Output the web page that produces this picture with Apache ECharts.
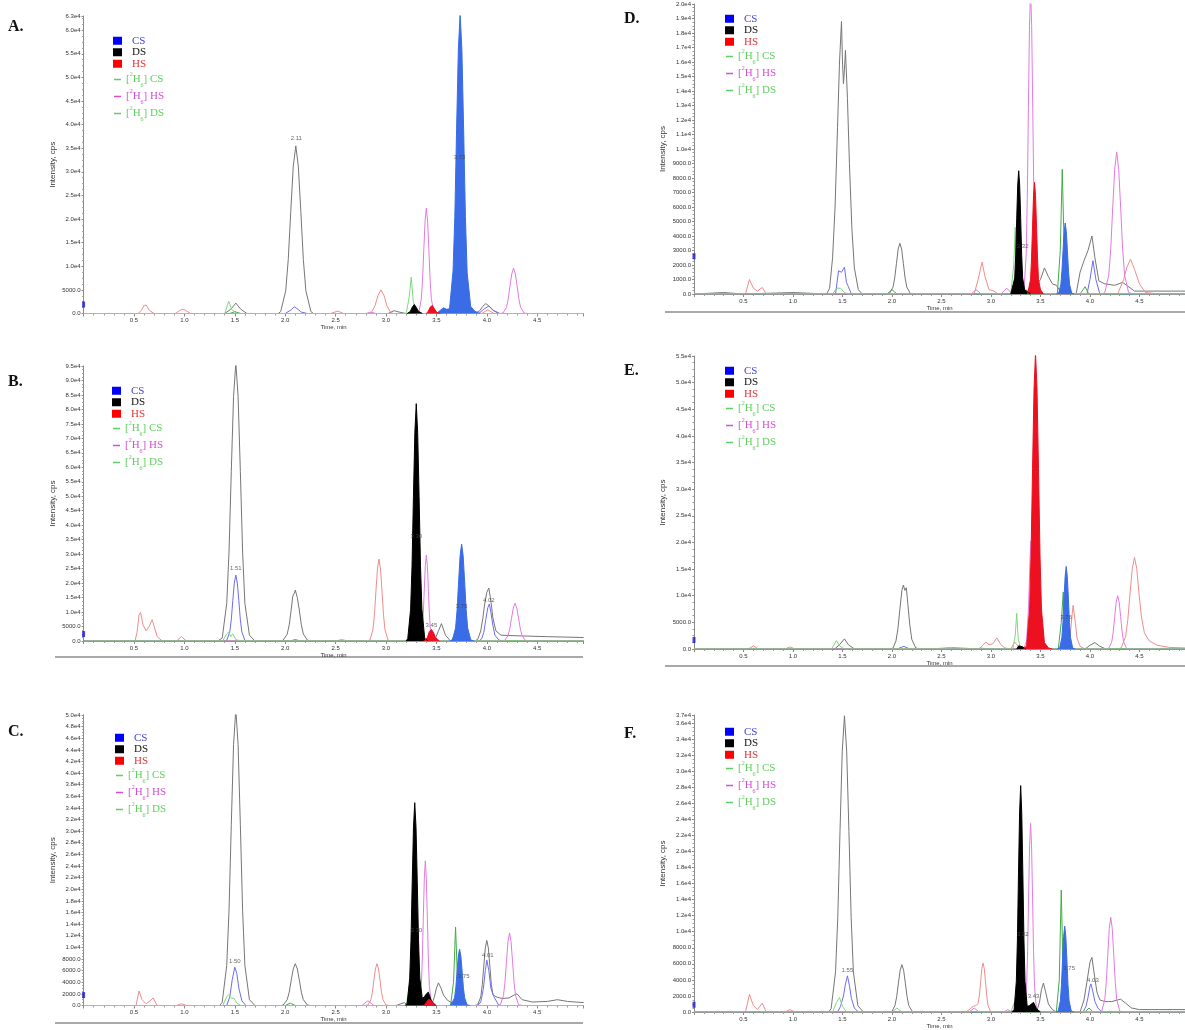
<!DOCTYPE html>
<html>
<head>
<meta charset="utf-8">
<script src="https://cdn.jsdelivr.net/npm/echarts@6/dist/echarts.min.js"></script>
<style>
  html, body { margin: 0; background: #fff; }
  #chart { width: 1185px; height: 1030px; }
</style>
</head>
<body>
<div id="chart"></div>
<script>
// six chromatograms (A-F): [time in min, intensity in cps]
const panelNames = ['A.', 'B.', 'C.', 'D.', 'E.', 'F.']
const yMaxes = [63000, 95000, 50000, 20000, 55000, 37000]
const ySteps = [5000, 5000, 2000, 1000, 5000, 2000]
const cursorLevels = [1900, 2400, 1800, 2600, 1700, 900]

// ---- A ----
const aDS = [[0,0],[1.40,0],[1.46,900],[1.51,2200],[1.56,900],[1.62,0],[1.93,0],[1.955,400],[2.005,4800],[2.03,11400],[2.055,21600],[2.08,31200],[2.105,35500],[2.13,31200],[2.155,21600],[2.18,11400],[2.205,4800],[2.255,400],[2.28,0],[3.02,0],[3.08,600],[3.13,300],[3.20,0],[3.88,0],[3.93,600],[3.96,1500],[3.99,2100],[4.02,1600],[4.06,700],[4.12,0],[4.96,0]]
const aCS = [[0,0],[2.00,0],[2.06,800],[2.09,1400],[2.12,1000],[2.16,300],[2.22,0],[3.92,0],[3.97,900],[4.02,1600],[4.07,600],[4.13,0],[4.96,0]]
const aHS = [[0,0],[0.54,0],[0.575,700],[0.60,1700],[0.62,1800],[0.65,700],[0.70,0],[0.91,0],[0.95,600],[0.98,900],[1.01,700],[1.06,0],[2.45,0],[2.52,500],[2.58,0],[2.84,0],[2.86,400],[2.89,1600],[2.92,3800],[2.95,5000],[2.98,3800],[3.01,1600],[3.04,400],[3.07,0],[3.95,0],[4.01,800],[4.07,0],[4.96,0]]
const aD6CS = [[0,0],[1.45,0],[1.50,400],[1.56,0],[3.66,0],[3.70,3000],[3.72,6000],[3.75,2000],[3.80,0],[4.96,0]]
const aD6HS = [[0,0],[2.80,0],[2.85,300],[2.90,0],[3.30,0],[3.325,250],[3.35,3000],[3.3625,7100],[3.375,13600],[3.3875,19600],[3.40,22300],[3.4125,19600],[3.425,13600],[3.4375,7100],[3.45,3000],[3.475,250],[3.50,0],[4.13,0],[4.16,100],[4.195,1300],[4.2125,3100],[4.23,5900],[4.2475,8400],[4.265,9600],[4.2825,8400],[4.30,5900],[4.3175,3100],[4.335,1300],[4.37,100],[4.40,0],[4.96,0]]
const aD6DS = [[0,0],[1.40,0],[1.44,2600],[1.47,800],[1.52,0],[3.20,0],[3.23,3500],[3.25,7700],[3.27,2500],[3.31,0],[4.96,0]]
const aDSFill = [[3.21,0],[3.24,400],[3.26,1300],[3.28,1900],[3.30,1300],[3.32,500],[3.36,0]]
const aCSFill = [[3.50,0],[3.54,700],[3.57,1200],[3.60,900],[3.63,1000],[3.665,9000],[3.6825,20500],[3.70,39000],[3.7175,55900],[3.735,63500],[3.7525,55900],[3.77,39000],[3.7875,20500],[3.805,8600],[3.84,1500],[3.88,500],[3.93,0]]
const aHSFill = [[3.40,0],[3.42,500],[3.44,1400],[3.46,1700],[3.48,1000],[3.50,300],[3.54,0]]
const aLabels = [[2.11,37000,'2.11'],[3.73,33000,'3.73']]

// ---- B ----
const bDS = [[0,0],[1.33,0],[1.375,1000],[1.42,13000],[1.4425,30700],[1.465,58600],[1.4875,84500],[1.51,96000],[1.5325,84500],[1.555,58600],[1.5775,30700],[1.60,13000],[1.645,2000],[1.70,0],[1.96,0],[1.98,300],[2.02,2400],[2.04,5600],[2.06,11000],[2.075,15500],[2.09,16500],[2.10,17600],[2.12,15000],[2.14,10700],[2.16,5600],[2.18,2400],[2.22,300],[2.26,0],[3.48,0],[3.52,3500],[3.55,6000],[3.59,2000],[3.64,0],[3.88,0],[3.91,600],[3.94,3500],[3.96,7800],[3.98,13000],[4.00,16800],[4.02,18300],[4.04,14000],[4.06,8000],[4.09,3500],[4.14,2000],[4.30,1800],[4.60,1500],[4.96,1200]]
const bCS = [[0,0],[1.40,0],[1.42,250],[1.45,3100],[1.465,7300],[1.48,13900],[1.495,20000],[1.51,22800],[1.525,20000],[1.54,13900],[1.555,7300],[1.57,3100],[1.60,250],[1.63,0],[2.05,0],[2.10,500],[2.15,0],[3.92,0],[3.95,800],[3.97,3000],[3.99,7500],[4.01,11500],[4.025,12800],[4.04,10000],[4.06,5500],[4.08,2000],[4.12,300],[4.16,0],[4.96,0]]
const bHS = [[0,0],[0.51,0],[0.53,3000],[0.55,9000],[0.565,9900],[0.59,5500],[0.62,3500],[0.65,5000],[0.68,7400],[0.70,5000],[0.73,1500],[0.78,0],[0.92,0],[0.97,1500],[1.02,0],[2.50,0],[2.56,500],[2.62,0],[2.80,0],[2.84,300],[2.87,3800],[2.885,9100],[2.90,17300],[2.915,24900],[2.93,28300],[2.945,24900],[2.96,17300],[2.975,9100],[2.99,3800],[3.02,300],[3.05,0],[4.96,0]]
const bD6CS = [[0,0],[3.65,0],[3.70,4000],[3.72,8000],[3.75,3000],[3.80,0],[4.96,0]]
const bD6HS = [[0,0],[3.32,0],[3.34,330],[3.36,4000],[3.37,9500],[3.38,18100],[3.39,26100],[3.40,29700],[3.41,26100],[3.42,18100],[3.43,9500],[3.44,4000],[3.46,330],[3.48,0],[4.14,0],[4.175,140],[4.21,1800],[4.2275,4200],[4.245,7900],[4.2625,11400],[4.28,13000],[4.2975,11400],[4.315,7900],[4.3325,4200],[4.35,1800],[4.385,140],[4.42,0],[4.96,0]]
const bD6DS = [[0,0],[1.38,0],[1.42,2500],[1.44,3100],[1.46,1500],[1.48,2500],[1.51,500],[1.56,0],[3.20,0],[3.24,1500],[3.28,0],[4.96,0]]
const bDSFill = [[3.20,0],[3.216,900],[3.244,11000],[3.258,26000],[3.272,50000],[3.286,72000],[3.30,82000],[3.314,72000],[3.328,50000],[3.342,26000],[3.356,11000],[3.384,900],[3.42,0]]
const bCSFill = [[3.63,0],[3.66,400],[3.69,4500],[3.705,10700],[3.72,20400],[3.735,29500],[3.75,33500],[3.765,29500],[3.78,20400],[3.795,10700],[3.81,4500],[3.84,400],[3.87,0]]
const bHSFill = [[3.38,0],[3.41,1200],[3.43,3300],[3.45,4000],[3.47,3000],[3.49,1200],[3.53,0]]
const bLabels = [[1.51,25000,'1.51'],[3.30,36000,'3.30'],[3.45,5500,'3.45'],[3.75,12000,'3.75'],[4.02,14000,'4.02']]

// ---- C ----
const cDS = [[0,0],[1.35,0],[1.375,560],[1.42,6900],[1.4425,16300],[1.465,31100],[1.4875,44900],[1.51,51000],[1.5325,44900],[1.555,31100],[1.5775,16300],[1.60,6900],[1.645,1000],[1.70,0],[1.96,0],[1.98,80],[2.02,1000],[2.04,2300],[2.06,4400],[2.08,6300],[2.10,7200],[2.12,6300],[2.14,4400],[2.16,2300],[2.18,1000],[2.22,80],[2.25,0],[3.10,0],[3.18,500],[3.22,0],[3.45,0],[3.48,1500],[3.50,3000],[3.52,3900],[3.545,3000],[3.57,1800],[3.61,900],[3.70,0],[3.88,0],[3.91,120],[3.94,1500],[3.955,3600],[3.97,6800],[3.985,9900],[4.00,11200],[4.015,9900],[4.03,6800],[4.045,3600],[4.06,1900],[4.09,1500],[4.15,1200],[4.22,1300],[4.27,1800],[4.30,2000],[4.35,1000],[4.45,600],[4.60,700],[4.70,1000],[4.80,700],[4.96,500]]
const cCS = [[0,0],[1.42,0],[1.45,1500],[1.475,4500],[1.50,6600],[1.52,5500],[1.54,3000],[1.57,800],[1.61,0],[3.91,0],[3.94,600],[3.965,2800],[3.985,6000],[4.00,7800],[4.02,6000],[4.04,3000],[4.07,1500],[4.12,0],[4.96,0]]
const cHS = [[0,0],[0.52,0],[0.55,2500],[0.58,1000],[0.62,300],[0.66,800],[0.69,1300],[0.73,0],[0.92,0],[0.97,300],[1.02,0],[2.78,0],[2.82,80],[2.85,1000],[2.865,2300],[2.88,4400],[2.895,6300],[2.91,7200],[2.925,6300],[2.94,4400],[2.955,2300],[2.97,1000],[3.00,80],[3.03,0],[4.96,0]]
const cD6CS = [[0,0],[2.00,0],[2.05,400],[2.10,0],[3.64,0],[3.67,4000],[3.69,13500],[3.71,4000],[3.75,0],[4.96,0]]
const cD6HS = [[0,0],[2.76,0],[2.82,800],[2.88,0],[3.32,0],[3.33,270],[3.35,3400],[3.36,8000],[3.37,15200],[3.38,21900],[3.39,24900],[3.40,21900],[3.41,15200],[3.42,8000],[3.43,3400],[3.45,270],[3.47,0],[4.10,0],[4.135,140],[4.165,1700],[4.18,4000],[4.195,7600],[4.21,11000],[4.225,12500],[4.24,11000],[4.255,7600],[4.27,4000],[4.285,1700],[4.315,140],[4.35,0],[4.96,0]]
const cD6DS = [[0,0],[1.38,0],[1.42,1500],[1.44,1900],[1.47,1200],[1.49,1300],[1.52,400],[1.56,0],[3.20,0],[3.24,4300],[3.27,1000],[3.30,0],[4.96,0]]
const cDSFill = [[3.19,0],[3.21,380],[3.235,4700],[3.2475,11200],[3.26,21300],[3.2725,30700],[3.285,34900],[3.2975,30700],[3.31,21300],[3.3225,11200],[3.335,4700],[3.36,1200],[3.38,1500],[3.40,2000],[3.42,2300],[3.45,800],[3.49,0]]
const cCSFill = [[3.64,0],[3.655,100],[3.68,1300],[3.6925,3100],[3.705,5900],[3.7175,8500],[3.73,9700],[3.7425,8500],[3.755,5900],[3.7675,3100],[3.78,1300],[3.805,100],[3.83,0]]
const cHSFill = [[3.38,0],[3.41,800],[3.43,1100],[3.46,500],[3.50,0]]
const cLabels = [[1.50,7600,'1.50'],[3.30,13000,'3.30'],[3.77,5000,'3.75'],[4.01,8700,'4.01']]

// ---- D ----
const dDS = [[0,0],[0.30,100],[0.50,0],[1.00,100],[1.34,0],[1.37,400],[1.40,2500],[1.425,6000],[1.45,11500],[1.47,16000],[1.49,18800],[1.50,16000],[1.51,14500],[1.52,15500],[1.53,16800],[1.55,13500],[1.57,9000],[1.595,4500],[1.62,1800],[1.66,300],[1.70,0],[1.95,0],[1.975,40],[2.01,470],[2.0275,1100],[2.045,2100],[2.0625,3100],[2.08,3500],[2.0975,3100],[2.115,2100],[2.1325,1100],[2.15,470],[2.185,40],[2.22,0],[3.38,0],[3.42,900],[3.46,600],[3.50,1000],[3.54,1800],[3.58,1200],[3.62,700],[3.66,600],[3.72,0],[3.86,0],[3.90,1500],[3.94,2300],[3.98,3000],[4.02,4000],[4.05,2500],[4.09,900],[4.15,700],[4.25,600],[4.33,800],[4.37,600],[4.45,200],[4.96,200]]
const dCS = [[0,0],[1.43,0],[1.46,1600],[1.49,1500],[1.52,1850],[1.54,800],[1.56,500],[1.59,0],[3.97,0],[4.00,1000],[4.03,2300],[4.06,1000],[4.10,0],[4.96,0]]
const dHS = [[0,0],[0.52,0],[0.56,1000],[0.60,400],[0.64,200],[0.69,450],[0.73,0],[2.83,0],[2.87,1000],[2.91,2200],[2.94,1200],[2.98,300],[3.03,200],[3.07,0],[3.33,0],[3.36,300],[3.40,0],[4.28,0],[4.34,1000],[4.37,1800],[4.41,2400],[4.45,1700],[4.50,700],[4.56,100],[4.70,0],[4.96,0]]
const dD6CS = [[0,0],[1.95,0],[2.00,300],[2.05,0],[3.67,0],[3.70,3000],[3.72,8600],[3.74,3000],[3.77,0],[3.90,0],[3.95,500],[3.99,0],[4.96,0]]
const dD6HS = [[0,0],[2.80,0],[2.85,300],[2.90,0],[3.10,0],[3.16,400],[3.20,100],[3.25,0],[3.32,0],[3.334,230],[3.356,2800],[3.367,6700],[3.378,12800],[3.389,18500],[3.40,21000],[3.411,18500],[3.422,12800],[3.433,6700],[3.444,2800],[3.466,230],[3.48,0],[4.12,0],[4.15,110],[4.19,1300],[4.21,3100],[4.23,6000],[4.25,8600],[4.27,9800],[4.29,8600],[4.31,6000],[4.33,3100],[4.35,1300],[4.39,110],[4.43,0],[4.96,0]]
const dD6DS = [[0,0],[1.40,0],[1.44,400],[1.48,400],[1.52,100],[1.56,0],[3.20,0],[3.23,2000],[3.245,4600],[3.26,1500],[3.29,0],[4.96,0]]
const dDSFill = [[3.20,0],[3.22,90],[3.24,1100],[3.25,2700],[3.26,5200],[3.27,7500],[3.28,8500],[3.29,7500],[3.30,5200],[3.31,2700],[3.32,1100],[3.34,300],[3.36,400],[3.40,0]]
const dCSFill = [[3.66,0],[3.684,55],[3.706,660],[3.717,1600],[3.728,3000],[3.739,4300],[3.75,4900],[3.761,4300],[3.772,3000],[3.783,1600],[3.794,660],[3.816,55],[3.84,0]]
const dHSFill = [[3.37,0],[3.38,85],[3.40,1000],[3.41,2500],[3.42,4700],[3.43,6800],[3.44,7700],[3.45,6800],[3.46,4700],[3.47,2500],[3.48,1000],[3.50,300],[3.53,0]]
const dLabels = [[3.32,3300,'3.32']]

// ---- E ----
const eDS = [[0,0],[1.42,0],[1.47,800],[1.52,1900],[1.56,800],[1.62,0],[1.98,0],[2.01,150],[2.04,1500],[2.06,3800],[2.08,7500],[2.10,11000],[2.115,12000],[2.13,11000],[2.145,11500],[2.16,8500],[2.18,4500],[2.20,1800],[2.24,200],[2.28,0],[3.95,0],[4.00,700],[4.05,1200],[4.10,500],[4.16,0],[4.96,0]]
const eCS = [[0,0],[2.05,0],[2.12,500],[2.18,0],[4.96,0]]
const eHS = [[0,0],[0.55,0],[0.60,600],[0.65,0],[0.92,0],[0.97,400],[1.02,0],[2.40,0],[2.60,300],[2.88,0],[2.92,800],[2.95,1300],[2.98,800],[3.02,1000],[3.06,2100],[3.10,800],[3.14,200],[3.20,0],[3.24,1300],[3.28,400],[3.32,0],[3.78,0],[3.80,2500],[3.82,6500],[3.83,8200],[3.845,6000],[3.87,2000],[3.90,500],[3.95,0],[4.28,0],[4.315,190],[4.36,2300],[4.3825,5500],[4.405,10500],[4.4275,15100],[4.45,17200],[4.4725,15100],[4.495,10500],[4.52,6000],[4.55,3000],[4.60,1500],[4.68,700],[4.80,300],[4.96,200]]
const eD6CS = [[0,0],[3.68,0],[3.71,5000],[3.73,10700],[3.75,3000],[3.78,0],[4.96,0]]
const eD6HS = [[0,0],[2.85,0],[2.90,200],[2.95,0],[3.33,0],[3.36,1500],[3.38,8000],[3.395,17000],[3.405,20300],[3.42,12000],[3.44,3000],[3.47,0],[4.16,0],[4.19,110],[4.22,1350],[4.235,3200],[4.25,6100],[4.265,8800],[4.28,10000],[4.295,8800],[4.31,6100],[4.325,3200],[4.34,1350],[4.37,110],[4.40,0],[4.96,0]]
const eD6DS = [[0,0],[1.39,0],[1.44,1600],[1.47,600],[1.52,0],[3.22,0],[3.245,2500],[3.26,6700],[3.275,2000],[3.30,0],[4.96,0]]
const eDSFill = [[3.26,0],[3.28,600],[3.30,900],[3.32,400],[3.35,0]]
const eCSFill = [[3.67,0],[3.694,170],[3.716,2100],[3.727,5000],[3.738,9500],[3.749,13600],[3.76,15500],[3.771,13600],[3.782,9500],[3.793,5000],[3.804,2100],[3.826,170],[3.85,0]]
const eHSFill = [[3.33,0],[3.36,600],[3.39,7500],[3.405,17800],[3.42,33900],[3.435,48800],[3.45,55500],[3.465,48800],[3.48,33900],[3.495,17800],[3.51,7500],[3.54,1200],[3.58,200],[3.62,0]]
const eLabels = [[3.76,6000,'3.76']]

// ---- F ----
const fDS = [[0,0],[1.36,0],[1.385,400],[1.43,5000],[1.4525,11800],[1.475,22500],[1.4975,32500],[1.52,36900],[1.5425,32500],[1.565,22500],[1.5875,11800],[1.61,5000],[1.655,800],[1.71,0],[1.97,0],[2.00,65],[2.03,800],[2.0475,1900],[2.065,3600],[2.0825,5200],[2.10,5900],[2.1175,5200],[2.135,3600],[2.1525,1900],[2.17,800],[2.205,65],[2.24,0],[3.46,0],[3.49,1200],[3.51,2800],[3.53,3600],[3.55,2600],[3.58,1000],[3.62,300],[3.66,0],[3.90,0],[3.94,1500],[3.97,3800],[4.00,6200],[4.02,6800],[4.04,5000],[4.07,2500],[4.10,1500],[4.15,1300],[4.22,1300],[4.28,1500],[4.31,1600],[4.36,1100],[4.42,500],[4.50,300],[4.96,300]]
const fCS = [[0,0],[1.45,0],[1.48,700],[1.51,2000],[1.53,3500],[1.55,4500],[1.57,3300],[1.59,1700],[1.62,500],[1.66,0],[3.93,0],[3.96,700],[3.98,1800],[4.00,3200],[4.01,3500],[4.03,2500],[4.05,1300],[4.08,500],[4.12,0],[4.96,0]]
const fHS = [[0,0],[0.52,0],[0.56,2200],[0.60,800],[0.64,300],[0.69,1100],[0.73,0],[0.92,0],[0.97,300],[1.02,0],[2.75,0],[2.79,400],[2.82,700],[2.85,800],[2.87,1100],[2.8825,2000],[2.895,3700],[2.9075,5400],[2.92,6100],[2.9325,5400],[2.945,3700],[2.9575,2000],[2.97,820],[2.995,70],[3.02,0],[4.96,0]]
const fD6CS = [[0,0],[3.66,0],[3.69,4000],[3.71,15200],[3.73,4000],[3.76,0],[3.95,0],[3.99,500],[4.03,0],[4.96,0]]
const fD6HS = [[0,0],[2.78,0],[2.83,500],[2.88,0],[3.13,0],[3.17,300],[3.21,0],[3.32,0],[3.34,260],[3.36,3200],[3.37,7500],[3.38,14300],[3.39,20700],[3.40,23500],[3.41,20700],[3.42,14300],[3.43,7500],[3.44,3200],[3.46,260],[3.48,0],[4.09,0],[4.12,130],[4.15,1600],[4.165,3800],[4.18,7200],[4.195,10400],[4.21,11800],[4.225,10400],[4.24,7200],[4.255,3800],[4.27,1600],[4.30,130],[4.33,0],[4.96,0]]
const fD6DS = [[0,0],[1.40,0],[1.44,1200],[1.47,1800],[1.50,700],[1.54,0],[2.00,0],[2.05,500],[2.10,0],[3.20,0],[3.23,1000],[3.25,1500],[3.27,500],[3.30,0],[4.96,0]]
const fDSFill = [[3.21,0],[3.234,310],[3.256,3800],[3.267,9000],[3.278,17200],[3.289,24800],[3.30,28200],[3.311,24800],[3.322,17200],[3.333,9000],[3.344,3800],[3.366,700],[3.39,800],[3.41,900],[3.43,1200],[3.46,400],[3.50,0]]
const fCSFill = [[3.655,0],[3.679,120],[3.701,1400],[3.712,3400],[3.723,6500],[3.734,9400],[3.745,10700],[3.756,9400],[3.767,6500],[3.778,3400],[3.789,1400],[3.811,120],[3.835,0]]
const fHSFill = []
const fLabels = [[1.55,5200,'1.55'],[3.32,9700,'3.32'],[3.43,1900,'3.43'],[3.79,5500,'3.75'],[4.03,4000,'4.03']]

const traces = [
  [aDS, aCS, aHS, aD6CS, aD6HS, aD6DS, aDSFill, aCSFill, aHSFill, aLabels],
  [bDS, bCS, bHS, bD6CS, bD6HS, bD6DS, bDSFill, bCSFill, bHSFill, bLabels],
  [cDS, cCS, cHS, cD6CS, cD6HS, cD6DS, cDSFill, cCSFill, cHSFill, cLabels],
  [dDS, dCS, dHS, dD6CS, dD6HS, dD6DS, dDSFill, dCSFill, dHSFill, dLabels],
  [eDS, eCS, eHS, eD6CS, eD6HS, eD6DS, eDSFill, eCSFill, eHSFill, eLabels],
  [fDS, fCS, fHS, fD6CS, fD6HS, fD6DS, fDSFill, fCSFill, fHSFill, fLabels]
]

// page layout (pixels)
const grids = [
  { left: 83.6, top: 16, width: 500, height: 297.5 },
  { left: 83.6, top: 366, width: 500, height: 275 },
  { left: 83.6, top: 715, width: 500, height: 290.5 },
  { left: 694, top: 4, width: 491, height: 290 },
  { left: 694, top: 356, width: 491, height: 293 },
  { left: 694, top: 715, width: 491, height: 297 }
]
const letterPos = [[8, 19], [8, 374], [8, 724], [624, 11], [624, 363], [624, 726]]
const legendPos = [[113, 35, 71], [112, 385, 420], [115, 732, 767], [725, 13, 48], [725, 365, 400], [725, 726, 760]]
const frameLines = [[55, 657, 583], [55, 1023, 583], [665, 312, 1185], [665, 666, 1185]]

function fmtY(v) {
  if (v === 0) return '0.0'
  if (v < 10000) return v.toFixed(1)
  return (v / 10000).toFixed(1) + 'e4'
}

const lineColors = { ds: '#767676', cs: '#6c6cf2', hs: '#f08c8c', d6cs: '#44aa44', d6hs: '#e27ae2', d6ds: '#7fd87f' }
const fillColors = { ds: '#000000', cs: '#3a6ce6', hs: '#ec1020' }

const chart = echarts.init(document.getElementById('chart'))
const option = {
  backgroundColor: '#fff',
  animation: false,
  title: [],
  grid: [],
  xAxis: [],
  yAxis: [],
  legend: [],
  series: [],
  graphic: []
}

grids.forEach((g, i) => {
  option.grid.push(g)
  option.title.push({
    text: panelNames[i], left: letterPos[i][0], top: letterPos[i][1], padding: 0,
    textStyle: { fontFamily: 'Liberation Serif', fontWeight: 'bold', fontSize: 16, color: '#111' }
  })
  option.xAxis.push({
    gridIndex: i, type: 'value', min: 0, max: 4.96, interval: 0.5,
    name: 'Time, min', nameLocation: 'middle', nameGap: 11,
    nameTextStyle: { fontFamily: 'Liberation Sans', fontSize: 6, color: '#333' },
    axisLine: { lineStyle: { color: '#8a8a8a', width: 1 } },
    axisTick: { length: 3, lineStyle: { color: '#8a8a8a' } },
    minorTick: { show: true, splitNumber: 5, length: 2, lineStyle: { color: '#9a9a9a' } },
    splitLine: { show: false },
    axisLabel: {
      showMinLabel: false, showMaxLabel: false, margin: 4,
      fontFamily: 'Liberation Sans', fontSize: 6, color: '#333',
      formatter: v => v.toFixed(1)
    }
  })
  option.yAxis.push({
    gridIndex: i, type: 'value', min: 0, max: yMaxes[i], interval: ySteps[i],
    name: 'Intensity, cps', nameLocation: 'middle', nameGap: 27,
    nameTextStyle: { fontFamily: 'Liberation Sans', fontSize: 8, color: '#333' },
    axisLine: { show: true, lineStyle: { color: '#8a8a8a', width: 1 } },
    axisTick: { show: true, length: 2, lineStyle: { color: '#8a8a8a' } },
    minorTick: { show: true, splitNumber: 4, length: 1.5, lineStyle: { color: '#9a9a9a' } },
    splitLine: { show: false },
    axisLabel: { margin: 3, fontFamily: 'Liberation Sans', fontSize: 6, color: '#333', formatter: fmtY }
  })

  const [ds, cs, hs, d6cs, d6hs, d6ds, dsFill, csFill, hsFill, labels] = traces[i]
  const line = (name, data, color) => ({
    name, type: 'line', xAxisIndex: i, yAxisIndex: i, data,
    symbol: 'none', z: 2, lineStyle: { width: 1, color }, itemStyle: { color }
  })
  const fill = (name, data, color) => ({
    name, type: 'line', xAxisIndex: i, yAxisIndex: i, data,
    symbol: 'none', z: 3, lineStyle: { width: 1, color }, itemStyle: { color },
    areaStyle: { color, opacity: 1 }
  })
  option.series.push(
    line('DS', ds, lineColors.ds),
    line('CS', cs, lineColors.cs),
    line('HS', hs, lineColors.hs),
    line('[2H6] CS', d6cs, lineColors.d6cs),
    line('[2H6] HS', d6hs, lineColors.d6hs),
    line('[2H6] DS', d6ds, lineColors.d6ds),
    fill('DS', dsFill, fillColors.ds),
    fill('CS', csFill, fillColors.cs),
    fill('HS', hsFill, fillColors.hs),
    {
      type: 'scatter', xAxisIndex: i, yAxisIndex: i, data: labels, symbolSize: 0, z: 5,
      label: {
        show: true, position: 'inside', formatter: p => p.data[2],
        fontFamily: 'Liberation Sans', fontSize: 6, color: '#444'
      }
    },
    {
      type: 'scatter', xAxisIndex: i, yAxisIndex: i, data: [[0, cursorLevels[i]]],
      symbol: 'rect', symbolSize: [3, 6], clip: false, z: 6, itemStyle: { color: '#1a1ad0' }
    }
  )

  const [lx, ly1, ly2] = legendPos[i]
  option.legend.push({
    orient: 'vertical', left: lx, top: ly1, padding: 0, itemGap: 0, selectedMode: false,
    itemWidth: 9, itemHeight: 8,
    textStyle: { fontFamily: 'Liberation Serif', fontSize: 11, lineHeight: 11.5, padding: [0, 0, 0, 5] },
    data: [
      { name: 'CS', icon: 'rect', itemStyle: { color: '#0000ff' }, textStyle: { color: '#4444d8' } },
      { name: 'DS', icon: 'rect', itemStyle: { color: '#000000' }, textStyle: { color: '#111111' } },
      { name: 'HS', icon: 'rect', itemStyle: { color: '#ff0000' }, textStyle: { color: '#e03434' } }
    ]
  })
  option.legend.push({
    orient: 'vertical', left: lx + 1, top: ly2, padding: 0, itemGap: 0, selectedMode: false,
    itemWidth: 7, itemHeight: 1.5,
    formatter: n => '[{sup|2}H{sub|6}]' + n.slice(5),
    textStyle: {
      fontFamily: 'Liberation Serif', fontSize: 11, lineHeight: 17,
      rich: {
        sup: { fontFamily: 'Liberation Serif', fontSize: 6, verticalAlign: 'top', lineHeight: 8 },
        sub: { fontFamily: 'Liberation Serif', fontSize: 6, verticalAlign: 'bottom', lineHeight: 8 }
      }
    },
    data: [
      { name: '[2H6] CS', icon: 'rect', itemStyle: { color: '#5fcf5f' }, textStyle: { color: '#5fcf5f' } },
      { name: '[2H6] HS', icon: 'rect', itemStyle: { color: '#d24ed2' }, textStyle: { color: '#d24ed2' } },
      { name: '[2H6] DS', icon: 'rect', itemStyle: { color: '#5fcf5f' }, textStyle: { color: '#5fcf5f' } }
    ]
  })
})

frameLines.forEach(([x1, y, x2]) => {
  option.graphic.push({
    type: 'line', shape: { x1, y1: y, x2, y2: y },
    style: { stroke: '#8c8c8c', lineWidth: 1.5 }, silent: true
  })
})

chart.setOption(option)
</script>
</body>
</html>
